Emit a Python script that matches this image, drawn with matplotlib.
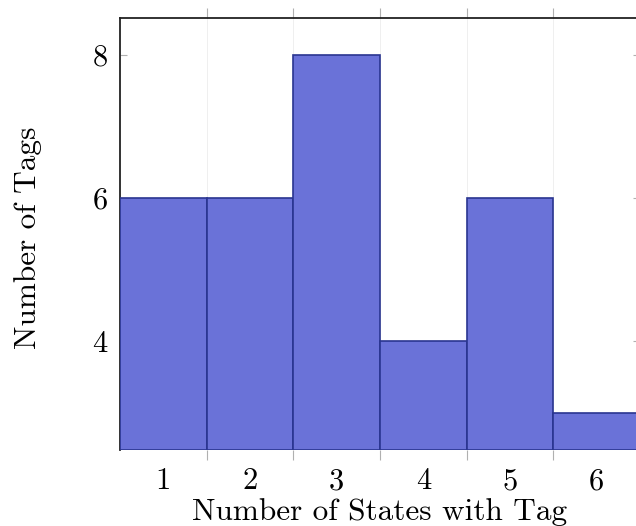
import matplotlib
matplotlib.use("Agg")
import matplotlib.pyplot as plt
from matplotlib.ticker import FixedLocator

categories = [1, 2, 3, 4, 5, 6]
tag_counts = [6, 6, 8, 4, 6, 3]
y_ticks = [4, 6, 8]
x_label = "Number of States with Tag"
y_label = "Number of Tags"

plt.rcParams['font.family'] = ['cmr10', 'DejaVu Serif']
plt.rcParams['axes.formatter.use_mathtext'] = True

W, H = 636, 526
fig = plt.figure(figsize=(W / 100, H / 100), dpi=100)
ax = fig.add_axes([120 / W, (H - 450) / H, (640 - 120) / W, (450 - 18) / H])

ymin, ymax = 2.48, 8.52
ax.bar(categories, [v - ymin for v in tag_counts], bottom=ymin, width=1.0,
       color='#6a72d8', edgecolor='#2a3590', linewidth=1.2, zorder=3)

ax.set_xlim(0.5, 6.5)
ax.set_ylim(ymin, ymax)

edges = [c + 0.5 for c in categories[:-1]]
ax.xaxis.set_major_locator(FixedLocator(categories))
ax.xaxis.set_minor_locator(FixedLocator(edges))
ax.set_xticklabels([str(c) for c in categories])
ax.tick_params(axis='x', which='major', length=0, labelsize=22, pad=13)
ax.tick_params(axis='x', which='minor', length=7.5, width=0.8, color='#b0b0b0',
               direction='out', top=True, bottom=True)
ax.set_yticks(y_ticks)
ax.tick_params(axis='y', which='major', length=5, width=0.8, color='#b0b0b0',
               direction='in', left=True, right=True, labelsize=22, pad=8.5)

for e in edges:
    ax.axvline(e, color='#ececec', lw=0.6, zorder=1)

for s in ['top', 'left', 'right']:
    ax.spines[s].set_linewidth(1.3)
    ax.spines[s].set_color('#222222')
ax.spines['bottom'].set_visible(False)

ax.set_xlabel(x_label, fontsize=22.5)
ax.xaxis.set_label_coords(0.5, (450 - 512) / 432)
ax.xaxis.label.set_va('center')
ax.set_ylabel(y_label, fontsize=22.5)
ax.yaxis.set_label_coords((28 - 120) / 520, (450 - 238) / 432)
ax.yaxis.label.set_va('center')

fig.savefig("out.png", dpi=100)
